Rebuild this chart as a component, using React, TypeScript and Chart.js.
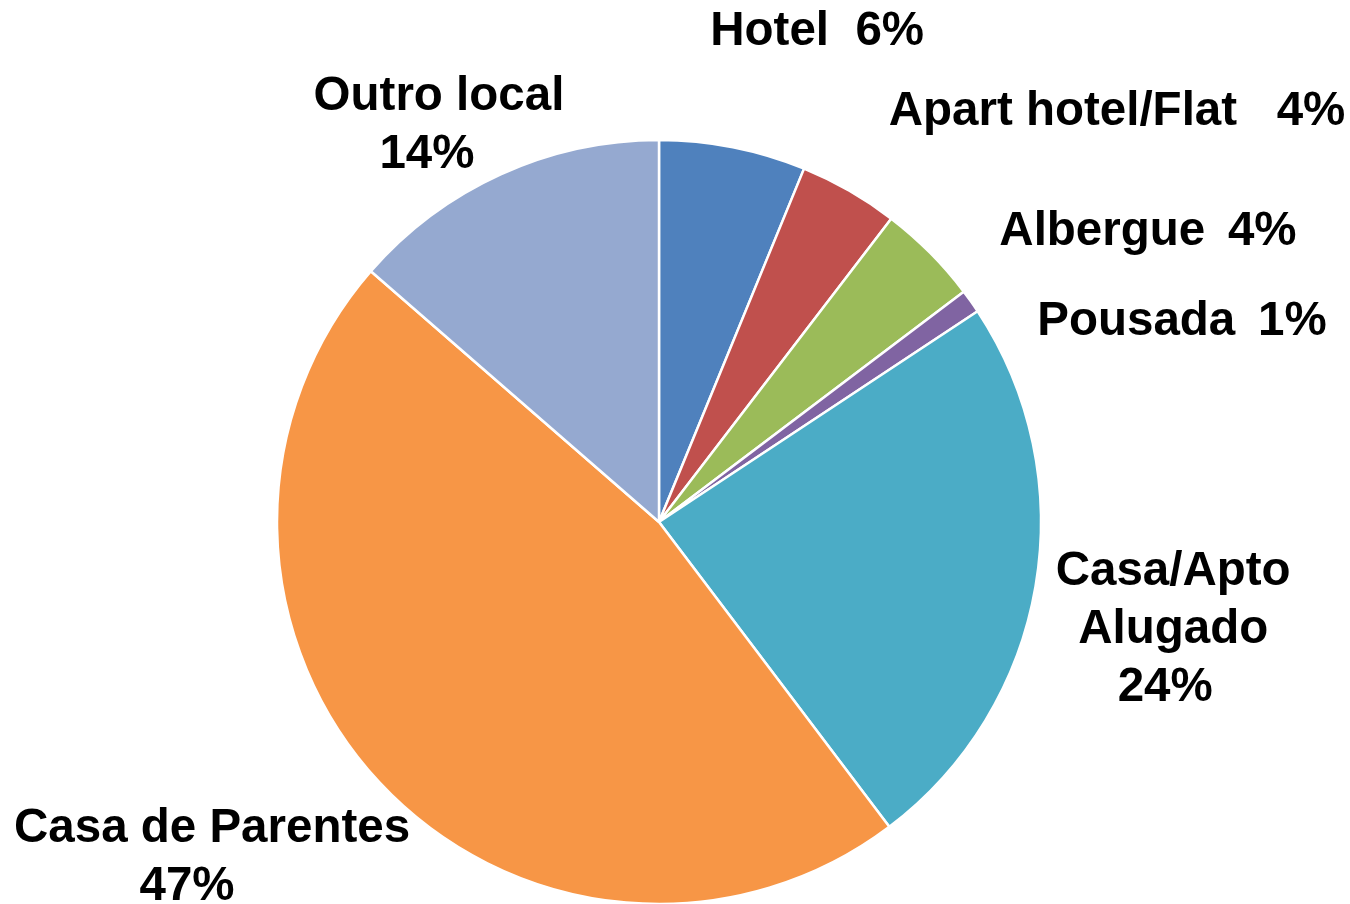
import React, { useEffect, useRef } from "react";
import { Chart, registerables } from "chart.js";

Chart.register(...registerables);

const categories = [
  "Hotel",
  "Apart hotel/Flat",
  "Albergue",
  "Pousada",
  "Casa/Apto Alugado",
  "Casa de Parentes",
  "Outro local",
];
const values = [6.2, 4.2, 4.3, 1.0, 24.0, 46.7, 13.6];
const labelLines = [
  ["Hotel  6%"],
  ["Apart hotel/Flat   4%"],
  ["Albergue \u20094%"],
  ["Pousada \u20091%"],
  ["Casa/Apto", "Alugado", "24%"],
  ["Casa de Parentes", "47%"],
  ["Outro local", "14%"],
];
const colors = ["#4F81BD", "#C0504D", "#9BBB59", "#8064A2", "#4BACC6", "#F79646", "#95A9D0"];
// label anchor offsets, in units of the pie radius, from the pie centre
const labelOffsets: [number, number][] = [
  [0.414, -1.283],
  [1.199, -1.073],
  [1.28, -0.759],
  [1.369, -0.524],
  [1.346, 0.283],
  [-1.17, 0.88],
  [-0.576, -1.037],
];
// small horizontal nudges (px) of individual label lines
const lineShifts: number[][] = [[0], [0], [0], [0], [0, 0, -8], [0, -25], [0, -12]];

const FONT = "bold 47.5px 'Liberation Sans', Arial, sans-serif";
const LINE_H = 58;

const labelPlugin = {
  id: "pieLabels",
  afterDraw(chart: any) {
    const meta = chart.getDatasetMeta(0);
    const arc = meta.data[0];
    if (!arc) return;
    const cx = arc.x;
    const cy = arc.y;
    const r = arc.outerRadius;
    const ctx = chart.ctx;
    ctx.save();
    ctx.font = FONT;
    ctx.fillStyle = "#000000";
    ctx.textAlign = "center";
    ctx.textBaseline = "middle";
    labelLines.forEach((lines, i) => {
      const [ox, oy] = labelOffsets[i];
      const x = cx + ox * r;
      const y0 = cy + oy * r - ((lines.length - 1) * LINE_H) / 2;
      lines.forEach((ln, j) => ctx.fillText(ln, x + (lineShifts[i][j] || 0), y0 + j * LINE_H));
    });
    ctx.restore();
  },
};

export default function App() {
  const ref = useRef<HTMLCanvasElement | null>(null);
  useEffect(() => {
    document.body.style.margin = "0";
    if (!ref.current) return;
    const chart = new Chart(ref.current, {
      type: "pie",
      data: {
        labels: categories,
        datasets: [
          {
            data: values,
            backgroundColor: colors,
            borderColor: "#FFFFFF",
            borderWidth: 2.5,
            radius: 382,
          } as any,
        ],
      },
      options: {
        animation: false,
        responsive: true,
        maintainAspectRatio: false,
        layout: { padding: { top: 140, bottom: 0, left: 276, right: 308 } },
        plugins: {
          legend: { display: false },
          tooltip: { enabled: false },
        },
      },
      plugins: [labelPlugin],
    });
    return () => chart.destroy();
  }, []);
  return (
    <div style={{ width: 1350, height: 904, position: "relative", background: "#fff" }}>
      <canvas ref={ref} />
    </div>
  );
}
